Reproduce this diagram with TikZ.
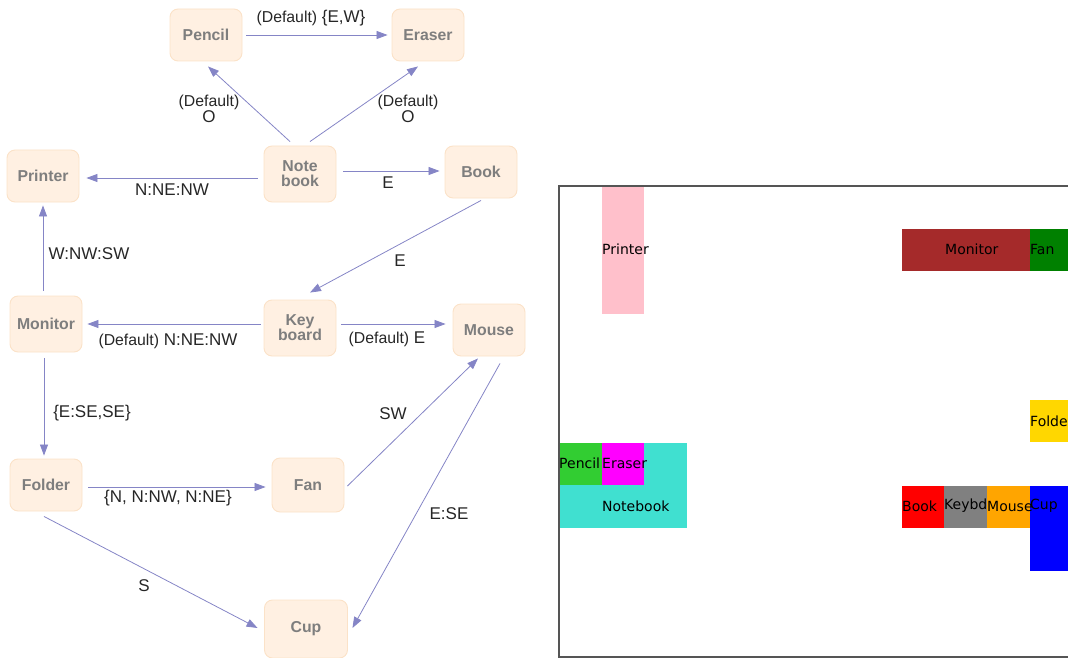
\documentclass[tikz,border=0pt]{standalone}
\usepackage{fontspec}
\setmainfont{Liberation Sans}
\newfontfamily\dejavu{DejaVu Sans}
\usetikzlibrary{arrows.meta,calc}
\definecolor{nodefill}{HTML}{FFF0E2}
\definecolor{nodeline}{HTML}{FBE2C8}
\definecolor{nodetext}{HTML}{7E7E7E}
\definecolor{edgecol}{HTML}{8585C6}
\definecolor{labcol}{HTML}{262626}
\definecolor{framecol}{HTML}{555555}
\tikzset{
  item/.style={rounded corners=8pt, fill=nodefill, draw=nodeline, line width=0.9pt,
    minimum width=72pt, minimum height=52pt, inner sep=0pt, align=center,
    text=nodetext, font=\fontsize{15.8}{15}\selectfont\bfseries},
  edge/.style={draw=edgecol, line width=0.8pt, -{Triangle[length=11pt,width=8pt]}},
  lab/.style={text=labcol, font=\fontsize{17}{17}\selectfont, inner sep=0pt, align=center},
  blktext/.style={anchor=west, inner sep=0pt, font=\dejavu\fontsize{14}{14}\selectfont, text=black},
}
\newcommand{\dflt}{{\fontsize{15.8}{15.8}\selectfont (Default)}}
\begin{document}
\begin{tikzpicture}[x=1pt,y=-1pt]
\useasboundingbox (0,0) rectangle (1068,658);
\clip (0,0) rectangle (1068,658);
% nodes
\node[item] (pen) at (206,35) {Pencil};
\node[item] (era) at (428,35) {Eraser};
\node[item] (pri) at (43,176) {Printer};
\node[item, minimum height=56pt] (nb) at (300,174) {Note\\book};
\node[item] (book) at (481,172) {Book};
\node[item, minimum height=56pt] (mon) at (46,324) {Monitor};
\node[item, minimum height=56pt] (kb) at (300,328) {Key\\board};
\node[item] (mouse) at (489,330) {Mouse};
\node[item] (fold) at (46,485) {Folder};
\node[item, minimum height=54pt] (fan) at (308,485) {Fan};
\node[item, minimum width=83pt, minimum height=58pt] (cup) at (306,629) {Cup};
% edges
\draw[edge] ([shift={(4,0)}]pen.east) -- ([shift={(-4,0)}]era.west);
\draw[edge] ([shift={(-10,-4)}]nb.north) -- ([shift={(2,5)}]pen.south);
\draw[edge] ([shift={(10,-4)}]nb.north) -- ([shift={(-10,5)}]era.south);
\draw[edge] ([shift={(-6,4)}]nb.west) -- ([shift={(7,2)}]pri.east);
\draw[edge] ([shift={(7,-3)}]nb.east) -- ([shift={(-5,-1)}]book.west);
\draw[edge] ([shift={(0,2)}]book.south) -- ([shift={(10,-7)}]kb.north);
\draw[edge] ([shift={(-3,-5)}]mon.north) -- ([shift={(0,3)}]pri.south);
\draw[edge] ([shift={(-3,-4)}]kb.west) -- ([shift={(5,0)}]mon.east);
\draw[edge] ([shift={(5,-4)}]kb.east) -- ([shift={(-7,-6)}]mouse.west);
\draw[edge] ([shift={(-2,6)}]mon.south) -- ([shift={(-2,-3)}]fold.north);
\draw[edge] ([shift={(6,2)}]fold.east) -- ([shift={(-6,2)}]fan.west);
\draw[edge] ([shift={(3,1)}]fan.east) -- ([shift={(-11,2)}]mouse.south);
\draw[edge] ([shift={(11,7)}]mouse.south) -- ([shift={(4.5,-1)}]cup.east);
\draw[edge] ([shift={(-2,5)}]fold.south) -- ([shift={(-6.5,-1)}]cup.west);
% labels
\node[lab] (l1) at (311,18) {\dflt\ \{E,W\}};
\node[lab] (l2) at (209,109) {\dflt\\[-1pt]O};
\node[lab] (l3) at (408,109) {\dflt\\[-1pt]O};
\node[lab] (l4) at (172,190) {N:NE:NW};
\node[lab] (l5) at (388,183) {E};
\node[lab] (l6) at (400,261) {E};
\node[lab] (l7) at (89,254) {W:NW:SW};
\node[lab] (l8) at (168,341) {\dflt\ N:NE:NW};
\node[lab] (l9) at (387,339) {\dflt\ E};
\node[lab] (l10) at (92,413) {\{E:SE,SE\}};
\node[lab] (l11) at (168,498) {\{N, N:NW, N:NE\}};
\node[lab] (l12) at (393,414) {SW};
\node[lab] (l13) at (449,514) {E:SE};
\node[lab] (l14) at (144,586) {S};
% right panel
\fill[fill={rgb,255:red,64;green,224;blue,208}] (559,443) rectangle (687,528);
\fill[fill={rgb,255:red,255;green,192;blue,203}] (602,186) rectangle (644,314);
\fill[fill={rgb,255:red,165;green,42;blue,42}] (902,229) rectangle (1030,271);
\fill[fill={rgb,255:red,0;green,128;blue,0}] (1030,229) rectangle (1072,271);
\fill[fill={rgb,255:red,255;green,215;blue,0}] (1030,400) rectangle (1072,442);
\fill[fill={rgb,255:red,50;green,205;blue,50}] (559,443) rectangle (602,485);
\fill[fill={rgb,255:red,255;green,0;blue,255}] (602,443) rectangle (644,485);
\fill[fill={rgb,255:red,255;green,0;blue,0}] (902,486) rectangle (944,528);
\fill[fill={rgb,255:red,128;green,128;blue,128}] (944,486) rectangle (987,528);
\fill[fill={rgb,255:red,255;green,165;blue,0}] (987,486) rectangle (1030,528);
\fill[fill={rgb,255:red,0;green,0;blue,255}] (1030,486) rectangle (1072,571);
\draw[framecol, line width=1.5pt] (1080,186) -- (559,186) -- (559,657) -- (1080,657);
\node[blktext] (tpri) at (602,249) {Printer};
\node[blktext] (tmon) at (945,249) {Monitor};
\node[blktext] (tfan) at (1030,249) {Fan};
\node[blktext] (tfold) at (1030,421) {Folder};
\node[blktext] (tpen) at (559,463) {Pencil};
\node[blktext] (tera) at (602,463) {Eraser};
\node[blktext] (tnb) at (602,506) {Notebook};
\node[blktext] (tbook) at (902,506) {Book};
\node[blktext] (tkb) at (944,506) {Keybd};
\node[blktext] (tmouse) at (987,506) {Mouse};
\node[blktext] (tcup) at (1030,506) {Cup};
\end{tikzpicture}
\end{document}
